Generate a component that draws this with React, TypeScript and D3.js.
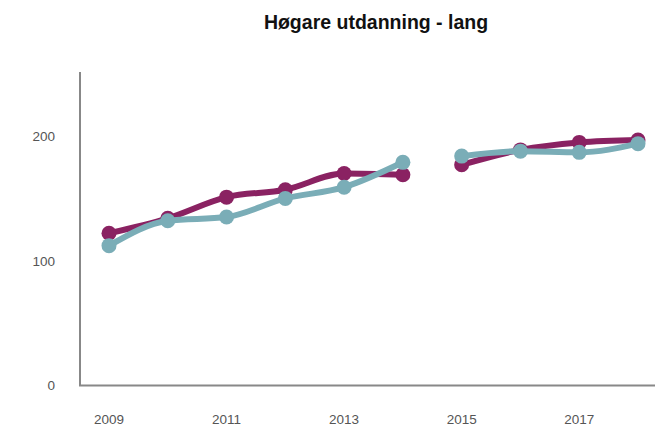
import React from "react";
import * as d3 from "d3";

const years = [2009, 2010, 2011, 2012, 2013, 2014, 2015, 2016, 2017, 2018];
const seriesA = [122, 134, 151, 157, 170, 169, 177, 189, 195, 197];
const seriesB = [112, 132, 135, 150, 159, 179, 184, 188, 187, 194];
const yTicks = [0, 100, 200];
const xTicks = [2009, 2011, 2013, 2015, 2017];
const title = "Høgare utdanning - lang";
const colors = ["#8a2262", "#7aadb7"];

export default function App() {
  const W = 655, H = 426;
  const x = d3.scalePoint<number>().domain(years).range([109, 638]);
  const y = d3.scaleLinear().domain([0, 250]).range([385, 74]);
  const line = d3
    .line<[number, number]>()
    .x((d) => x(d[0])!)
    .y((d) => y(d[1]))
    .curve(d3.curveMonotoneX);
  const seg = (vals: number[]) => {
    const pts = years.map((yr, i) => [yr, vals[i]] as [number, number]);
    const a = pts.filter((p) => p[0] <= 2014);
    const b = pts.filter((p) => p[0] >= 2015);
    return [line(a), line(b)];
  };
  const font = "'Liberation Sans', Arial, sans-serif";
  return (
    <svg width={W} height={H} style={{ position: "absolute", left: 0, top: 0 }}>
      <text x={376} y={29} textAnchor="middle" fontFamily={font} fontWeight="bold" fontSize={19.5} fill="#111">
        {title}
      </text>
      <line x1={80} x2={80} y1={72} y2={386} stroke="#888" strokeWidth={2} />
      <line x1={79} x2={655} y1={385.5} y2={385.5} stroke="#888" strokeWidth={2} />
      {yTicks.map((t) => (
        <text key={t} x={55} y={y(t) + 5} textAnchor="end" fontFamily={font} fontSize={13.5} fill="#555">
          {t}
        </text>
      ))}
      {xTicks.map((t) => (
        <text key={t} x={x(t)!} y={424} textAnchor="middle" fontFamily={font} fontSize={13.5} fill="#555">
          {t}
        </text>
      ))}
      {[seriesA, seriesB].map((vals, si) => (
        <g key={si}>
          {seg(vals).map((d, k) => (
            <path key={k} d={d || ""} fill="none" stroke={colors[si]} strokeWidth={6} strokeLinecap="round" />
          ))}
          {vals.map((v, i) => (
            <circle key={i} cx={x(years[i])!} cy={y(v)} r={7.5} fill={colors[si]} />
          ))}
        </g>
      ))}
    </svg>
  );
}
